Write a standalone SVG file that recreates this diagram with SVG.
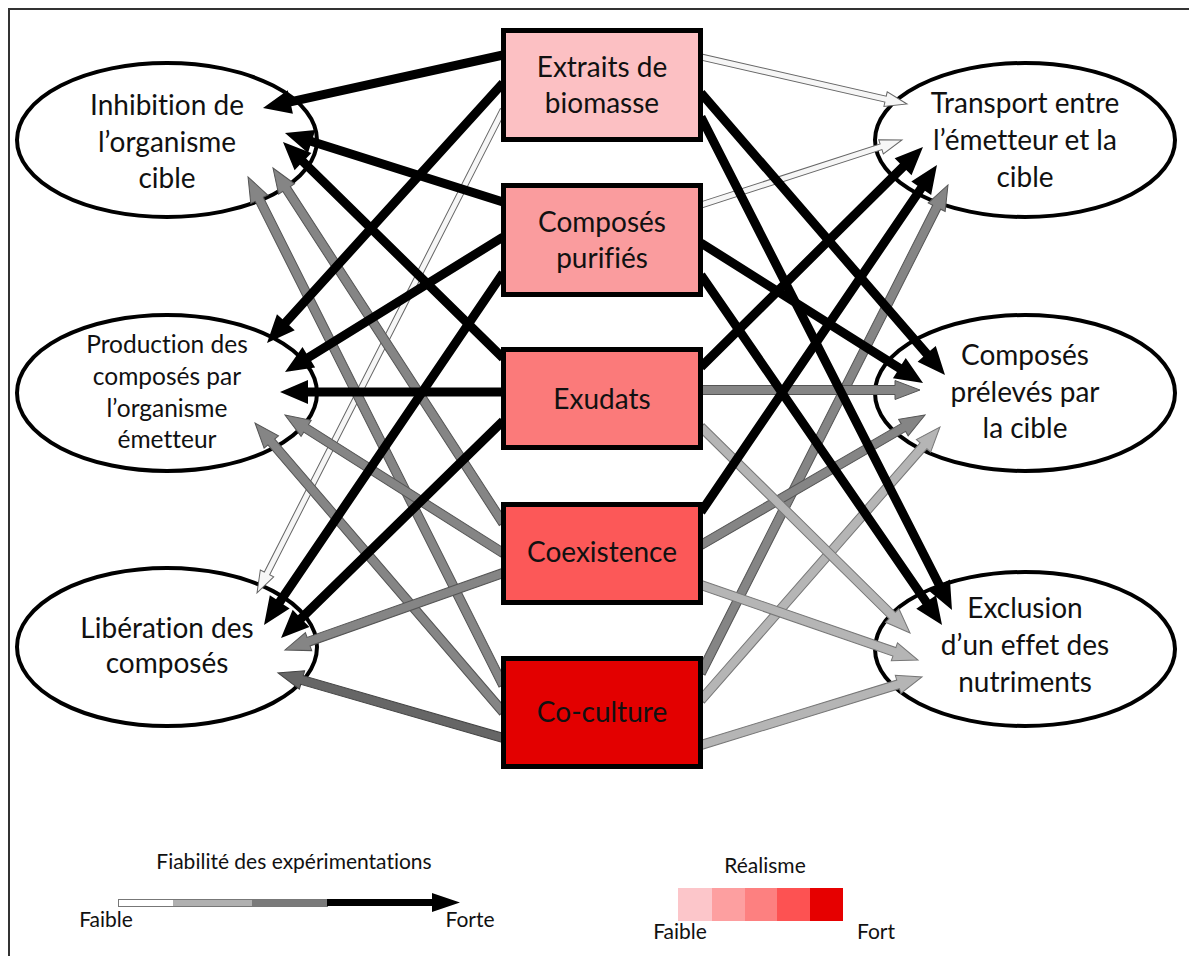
<svg xmlns="http://www.w3.org/2000/svg" width="1189" height="956" viewBox="0 0 1189 956">
<style>
.t{font-family:Lato,"Liberation Sans",sans-serif;fill:#111;text-anchor:middle;font-variant-ligatures:none;font-feature-settings:"liga" 0,"dlig" 0}
.big{font-size:28px}
.mid{font-size:24.5px}
.leg{font-size:21px}
.ell{fill:#fff;stroke:#000;stroke-width:4}
.box{stroke:#000;stroke-width:5}
.bk{fill:#000}
.gr{fill:#858585;stroke:#555;stroke-width:1}
.lg{fill:#b5b5b5;stroke:#777;stroke-width:1}
.dg{fill:#666;stroke:#444;stroke-width:1}
.wh{fill:#f6f6f6;stroke:#666;stroke-width:1}
</style>
<rect x="0" y="0" width="1189" height="956" fill="#fff"/>
<rect x="9" y="9" width="1220" height="1000" fill="none" stroke="#333" stroke-width="2"/>

<g id="ell-inhibition"><ellipse class="ell" cx="167" cy="140" rx="150" ry="77"/>
<text class="t big" x="167" y="115">Inhibition de</text><text class="t big" x="167" y="152">l’organisme</text><text class="t big" x="167" y="188">cible</text></g>
<g id="ell-production"><ellipse class="ell" cx="167" cy="393" rx="150" ry="78"/>
<text class="t mid" x="167" y="353">Production des</text><text class="t mid" x="167" y="385">composés par</text><text class="t mid" x="167" y="417">l’organisme</text><text class="t mid" x="167" y="448">émetteur</text></g>
<g id="ell-liberation"><ellipse class="ell" cx="167" cy="647" rx="150" ry="79"/>
<text class="t big" x="167" y="638">Libération des</text><text class="t big" x="167" y="673">composés</text></g>
<g id="ell-transport"><ellipse class="ell" cx="1025" cy="140" rx="150" ry="77"/>
<text class="t big" x="1025" y="113">Transport entre</text><text class="t big" x="1025" y="150">l’émetteur et la</text><text class="t big" x="1025" y="187">cible</text></g>
<g id="ell-preleves"><ellipse class="ell" cx="1025" cy="393" rx="150" ry="78"/>
<text class="t big" x="1025" y="365">Composés</text><text class="t big" x="1025" y="402">prélevés par</text><text class="t big" x="1025" y="438">la cible</text></g>
<g id="ell-exclusion"><ellipse class="ell" cx="1025" cy="649" rx="150" ry="77"/>
<text class="t big" x="1025" y="618">Exclusion</text><text class="t big" x="1025" y="655">d’un effet des</text><text class="t big" x="1025" y="692">nutriments</text></g>

<g id="connectors">
<path class="wh" d="M0,-3H520V-7.5L542,0L520,7.5V3H0Z" transform="translate(503,110) rotate(116.99)"/>
<path class="wh" d="M0,-3H189.3V-7.5L211.3,0L189.3,7.5V3H0Z" transform="translate(701,57) rotate(12.85)"/>
<path class="wh" d="M0,-3H189.2V-7.5L211.2,0L189.2,7.5V3H0Z" transform="translate(701,205) rotate(-17.92)"/>

<path class="gr" d="M0,-4.5H398V-9.5L423,0L398,9.5V4.5H0Z" transform="translate(503,523) rotate(-122.94)"/>
<path class="gr" d="M0,-4.5H543.4V-9.5L568.4,0L543.4,9.5V4.5H0Z" transform="translate(503,685) rotate(-116.65)"/>
<path class="gr" d="M0,-4.5H233V-9.5L258,0L233,9.5V4.5H0Z" transform="translate(503,553) rotate(-147.67)"/>
<path class="gr" d="M0,-4.5H355.8V-9.5L380.8,0L355.8,9.5V4.5H0Z" transform="translate(503,712) rotate(-130.63)"/>
<path class="gr" d="M0,-4.5H206.2V-9.5L231.2,0L206.2,9.5V4.5H0Z" transform="translate(503,573) rotate(160.55)"/>
<path class="dg" d="M0,-4.5H209.2V-9.5L234.2,0L209.2,9.5V4.5H0Z" transform="translate(503,738) rotate(-163.89)"/>
<path class="gr" d="M0,-4.5H522V-9.5L547,0L522,9.5V4.5H0Z" transform="translate(701,673) rotate(-63.16)"/>
<path class="gr" d="M0,-4.5H194V-9.5L219,0L194,9.5V4.5H0Z" transform="translate(701,390)"/>
<path class="gr" d="M0,-4.5H234V-9.5L259,0L234,9.5V4.5H0Z" transform="translate(701,545) rotate(-30.13)"/>
<path class="lg" d="M0,-4.5H337.8V-9.5L362.8,0L337.8,9.5V4.5H0Z" transform="translate(701,700) rotate(-48.8)"/>
<path class="lg" d="M0,-4.5H268.5V-9.5L293.5,0L268.5,9.5V4.5H0Z" transform="translate(701,427) rotate(44.59)"/>
<path class="lg" d="M0,-4.5H204.6V-9.5L229.6,0L204.6,9.5V4.5H0Z" transform="translate(701,585) rotate(19.07)"/>
<path class="lg" d="M0,-4.5H206.2V-9.5L231.2,0L206.2,9.5V4.5H0Z" transform="translate(701,745) rotate(-17.1)"/>

<path class="bk" d="M0,-4.5H217.8V-12L245.8,0L217.8,12V4.5H0Z" transform="translate(503,55) rotate(167.55)"/>
<path class="bk" d="M0,-4.5H200.7V-12L228.7,0L200.7,12V4.5H0Z" transform="translate(503,202) rotate(-162.44)"/>
<path class="bk" d="M0,-4.5H280.3V-12L308.3,0L280.3,12V4.5H0Z" transform="translate(503,358) rotate(-135.53)"/>
<path class="bk" d="M0,-4.5H323.1V-12L351.1,0L323.1,12V4.5H0Z" transform="translate(503,83) rotate(132.23)"/>
<path class="bk" d="M0,-4.5H228.4V-12L256.4,0L228.4,12V4.5H0Z" transform="translate(503,237) rotate(148.23)"/>
<path class="bk" d="M0,-4.5H195V-12L223,0L195,12V4.5H0Z" transform="translate(503,392) rotate(180)"/>
<path class="bk" d="M0,-4.5H397.5V-12L425.5,0L397.5,12V4.5H0Z" transform="translate(503,273) rotate(124.17)"/>
<path class="bk" d="M0,-4.5H282.4V-12L310.4,0L282.4,12V4.5H0Z" transform="translate(503,421) rotate(135.65)"/>
<path class="bk" d="M0,-4.5H284.5V-12L312.5,0L284.5,12V4.5H0Z" transform="translate(701,367) rotate(-44.74)"/>
<path class="bk" d="M0,-4.5H391.6V-12L419.6,0L391.6,12V4.5H0Z" transform="translate(701,512) rotate(-55.78)"/>
<path class="bk" d="M0,-4.5H344.9V-12L372.9,0L344.9,12V4.5H0Z" transform="translate(701,93) rotate(49.13)"/>
<path class="bk" d="M0,-4.5H234.5V-12L262.5,0L234.5,12V4.5H0Z" transform="translate(701,243) rotate(32.24)"/>
<path class="bk" d="M0,-4.5H525.2V-12L553.2,0L525.2,12V4.5H0Z" transform="translate(701,117) rotate(63.02)"/>
<path class="bk" d="M0,-4.5H397V-12L425,0L397,12V4.5H0Z" transform="translate(701,275) rotate(55.45)"/>
</g>

<g id="box-extraits"><rect class="box" x="503.5" y="30.5" width="197" height="109" fill="#fcc0c3"/>
<text class="t big" x="602" y="77">Extraits de</text><text class="t big" x="602" y="113">biomasse</text></g>
<g id="box-composes"><rect class="box" x="503.5" y="185.5" width="197" height="109" fill="#fa9c9e"/>
<text class="t big" x="602" y="232">Composés</text><text class="t big" x="602" y="268">purifiés</text></g>
<g id="box-exudats"><rect class="box" x="503.5" y="349.5" width="197" height="98" fill="#fb7a7a"/>
<text class="t big" x="602" y="409">Exudats</text></g>
<g id="box-coexistence"><rect class="box" x="503.5" y="504.5" width="197" height="98" fill="#fc5858"/>
<text class="t big" x="602" y="562">Coexistence</text></g>
<g id="box-coculture"><rect class="box" x="503.5" y="658.5" width="197" height="108" fill="#e30000"/>
<text class="t big" x="602" y="722">Co-culture</text></g>

<g id="legend-fiabilite">
<text class="t leg" x="294" y="869">Fiabilité des expérimentations</text>
<rect x="118.5" y="899.5" width="209" height="7" fill="#fff" stroke="#777" stroke-width="1"/>
<rect x="173" y="900" width="79" height="6" fill="#b0b0b0"/>
<rect x="252" y="900" width="75" height="6" fill="#7a7a7a"/>
<path d="M327,899H432V893L460,902.5L432,912V906H327Z" fill="#000"/>
<text class="t leg" x="106" y="927">Faible</text>
<text class="t leg" x="470" y="927">Forte</text>
</g>
<g id="legend-realisme">
<text class="t leg" x="765" y="873">Réalisme</text>
<rect x="678" y="888" width="34" height="33" fill="#fcc6ca"/>
<rect x="712" y="888" width="33" height="33" fill="#fd9fa0"/>
<rect x="745" y="888" width="32" height="33" fill="#fd8080"/>
<rect x="777" y="888" width="33" height="33" fill="#fd5252"/>
<rect x="810" y="888" width="33" height="33" fill="#e60000"/>
<text class="t leg" x="680" y="939">Faible</text>
<text class="t leg" x="876" y="939">Fort</text>
</g>
</svg>
